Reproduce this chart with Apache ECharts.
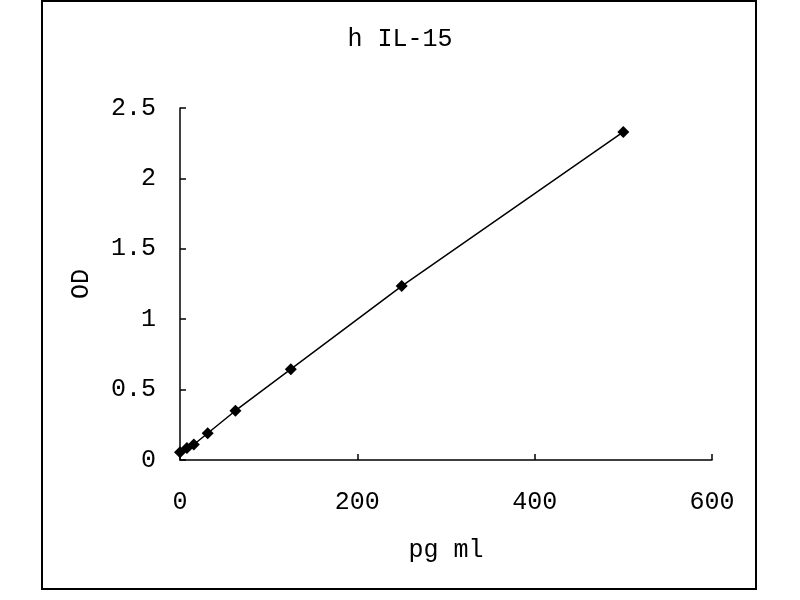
<!DOCTYPE html>
<html>
<head>
<meta charset="utf-8">
<script src="https://cdn.jsdelivr.net/npm/echarts@6/dist/echarts.min.js"></script>
<style>
  html, body { margin: 0; padding: 0; background: #fff; }
  #chart { width: 800px; height: 600px; }
</style>
</head>
<body>
<div id="chart"></div>
<script>
// standard curve values
var concentrations = [0, 7.8, 15.6, 31.25, 62.5, 125, 250, 500];
var odValues = [0.055, 0.085, 0.11, 0.19, 0.35, 0.645, 1.235, 2.33];
var titleText = 'h IL-15';
var xName = 'pg ml';
var yName = 'OD';

var font = 'Liberation Mono';
var points = concentrations.map(function (c, i) { return [c, odValues[i]]; });

var chart = echarts.init(document.getElementById('chart'));
chart.setOption({
    backgroundColor: '#fff',
    animation: false,
    title: {
        text: titleText, left: 'center', top: 22,
        textStyle: {fontFamily: font, fontSize: 25, fontWeight: 'normal', color: '#000'}
    },
    graphic: [{
        type: 'rect', shape: {x: 42, y: 1, width: 714, height: 588},
        style: {fill: 'none', stroke: '#000', lineWidth: 2}, silent: true
    }],
    grid: {left: 180, right: 88, top: 108, bottom: 140},
    xAxis: {
        type: 'value', min: 0, max: 600, interval: 200,
        name: xName, nameLocation: 'middle', nameGap: 78,
        nameTextStyle: {fontFamily: font, fontSize: 25, color: '#000'},
        axisLine: {lineStyle: {color: '#000', width: 1.5}},
        axisTick: {inside: true, length: 6, lineStyle: {color: '#000', width: 1.5}},
        axisLabel: {fontFamily: font, fontSize: 25, color: '#000', margin: 30},
        splitLine: {show: false}
    },
    yAxis: {
        type: 'value', min: 0, max: 2.5, interval: 0.5,
        name: yName, nameLocation: 'middle', nameGap: 86, nameRotate: 90,
        nameTextStyle: {fontFamily: font, fontSize: 25, color: '#000'},
        axisLine: {show: true, lineStyle: {color: '#000', width: 1.5}},
        axisTick: {show: true, inside: true, length: 6, lineStyle: {color: '#000', width: 1.5}},
        axisLabel: {fontFamily: font, fontSize: 25, color: '#000', margin: 24},
        splitLine: {show: false}
    },
    series: [{
        type: 'line', data: points,
        symbol: 'diamond', symbolSize: 12,
        itemStyle: {color: '#000'},
        lineStyle: {color: '#000', width: 1.5}
    }]
});
</script>
</body>
</html>
